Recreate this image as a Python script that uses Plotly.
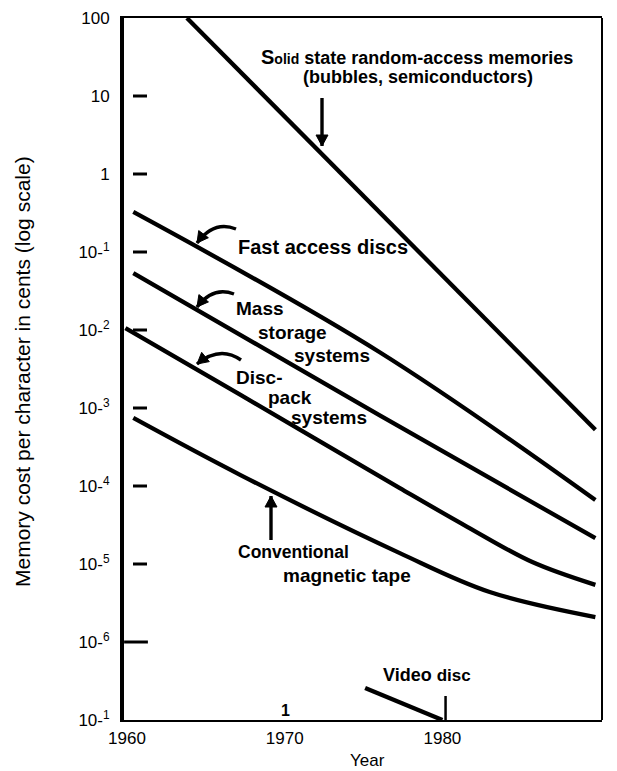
import plotly.graph_objects as go

# ---------------- data ----------------
years_solid = [1963.8, 1980.3, 1989.7]
cost_solid = [100, 0.0427, 5.25e-4]

years_fast = [1960.4, 1976.0, 1989.7]
cost_fast = [0.326, 5.22e-3, 6.6e-5]

years_mass = [1960.4, 1976.0, 1989.7]
cost_mass = [0.0537, 8.1e-4, 2.14e-5]

years_discpack = [1959.9, 1967.2, 1977.3, 1981.6, 1985.7, 1989.7]
cost_discpack = [0.0106, 1.47e-3, 9.4e-5, 2.98e-5, 1.06e-5, 5.4e-6]

years_tape = [1960.4, 1967.2, 1977.3, 1983.0, 1989.7]
cost_tape = [7.45e-4, 1.38e-4, 1.38e-5, 4.38e-6, 2.09e-6]

years_video = [1975.1, 1980.0]
cost_video = [2.57e-7, 1.0e-7]

x_tick_vals = [1960, 1970, 1980, 1990]
x_tick_text = ["1960", "1970", "1980", "1990"]
y_tick_vals = [100, 10, 1, 1e-1, 1e-2, 1e-3, 1e-4, 1e-5, 1e-6, 1e-7]
y_tick_text = ["100", "10", "1", "10-<sup>1</sup>", "10-<sup>2</sup>", "10-<sup>3</sup>",
               "10-<sup>4</sup>", "10-<sup>5</sup>", "10-<sup>6</sup>", "10-<sup>1</sup>"]
dash_vals = [10, 1, 1e-1, 1e-2, 1e-3, 1e-4, 1e-5]
long_dash_vals = [1e-6]

# ---------------- layout geometry ----------------
OFF = 8                      # the page body margin shifts the figure by 8 px
W, H = 617 - OFF, 771 - OFF
L, R, T, B = 124 - OFF, 15, 18 - OFF, 51
PW, PH = W - L - R, H - T - B
X_RANGE = [1959.81, 1990.12]
FONT = "Liberation Sans, Arial, Helvetica, sans-serif"


def px(x):   # screenshot pixel -> paper x
    return (x - OFF - L) / PW


def py(y):   # screenshot pixel -> paper y
    return (T + PH - (y - OFF)) / PH


def year_at(xpix):
    return X_RANGE[0] + px(xpix) * (X_RANGE[1] - X_RANGE[0])


fig = go.Figure()

for xs, ys, shape in [(years_solid, cost_solid, "linear"),
                      (years_fast, cost_fast, "spline"),
                      (years_mass, cost_mass, "spline"),
                      (years_discpack, cost_discpack, "spline"),
                      (years_tape, cost_tape, "spline"),
                      (years_video, cost_video, "linear")]:
    fig.add_trace(go.Scatter(x=xs, y=ys, mode="lines",
                             line=dict(color="black", width=4.3, shape=shape, smoothing=1.0),
                             hoverinfo="skip", showlegend=False))

# small dashes used as y ticks inside the frame
fig.add_trace(go.Scatter(x=[year_at(140)] * len(dash_vals), y=dash_vals, mode="markers",
                         marker=dict(symbol="line-ew", size=10,
                                     line=dict(color="black", width=3)),
                         hoverinfo="skip", showlegend=False))
fig.add_trace(go.Scatter(x=[year_at(136)] * len(long_dash_vals), y=long_dash_vals,
                         mode="markers",
                         marker=dict(symbol="line-ew", size=17,
                                     line=dict(color="black", width=3)),
                         hoverinfo="skip", showlegend=False, cliponaxis=False))

shapes = []


def arrow(start, ctrl, tip, width=3.4, head=11, half=6):
    (x0, y0), (x1, y1) = start, tip
    if ctrl is None:
        path = f"M {px(x0)},{py(y0)} L {px(x1)},{py(y1)}"
        cx, cy = x0, y0
    else:
        cx, cy = ctrl
        path = f"M {px(x0)},{py(y0)} Q {px(cx)},{py(cy)} {px(x1)},{py(y1)}"
    dx, dy = x1 - cx, y1 - cy
    n = (dx * dx + dy * dy) ** 0.5
    dx, dy = dx / n, dy / n
    bx, by = x1 - dx * head, y1 - dy * head
    shapes.append(dict(type="path", path=path, xref="paper", yref="paper",
                       line=dict(color="black", width=width)))
    p1 = (bx - dy * half, by + dx * half)
    p2 = (bx + dy * half, by - dx * half)
    tri = (f"M {px(x1)},{py(y1)} L {px(p1[0])},{py(p1[1])} "
           f"L {px(p2[0])},{py(p2[1])} Z")
    shapes.append(dict(type="path", path=tri, xref="paper", yref="paper",
                       fillcolor="black", line=dict(color="black", width=1)))


arrow((322, 98), None, (322, 146))           # solid state
arrow((236, 229), (214, 220), (197, 243))     # fast access
arrow((234, 294), (213, 286), (197, 307))     # mass storage
arrow((241, 360), (220, 345), (197, 364))     # disc-pack
arrow((271, 540), None, (271, 496))           # tape

# right border of the frame
shapes.append(dict(type="line", xref="paper", yref="paper", x0=1, x1=1, y0=0, y1=1,
                   line=dict(color="black", width=2)))
# 1980 tick
shapes.append(dict(type="line", xref="x", yref="paper", x0=1980.2, x1=1980.2,
                   y0=0, y1=py(696), line=dict(color="black", width=2.5)))

ann = []


def label(text, x, y, xanchor="left", size=18, bold=True, angle=0):
    t = f"<b>{text}</b>" if bold else text
    ann.append(dict(text=t, x=px(x), y=py(y), xref="paper", yref="paper",
                    xanchor=xanchor, yanchor="middle", showarrow=False,
                    textangle=angle,
                    font=dict(family=FONT, size=size, color="black")))


label("<span style='font-size:20px'>S</span><span style='font-size:14px'>olid</span>"
      " state random-access memories", 417, 57, "center")
label("(bubbles, semiconductors)", 418, 77, "center")
label("Fast access discs", 236, 247, size=20)
label("Mass", 234, 308, size=19)
label("storage", 256, 332, size=19)
label("systems", 292, 355, size=19)
label("Disc-", 234, 377, size=19)
label("pack", 266, 397, size=19)
label("systems", 289, 417, size=19)
label("Conventional", 236, 552, size=17.5)
label("magnetic tape", 281, 575, size=19)
label("Video <span style='font-size:17px'>disc</span>", 381, 675)
label("1", 285, 710, "center", size=16)

# axis titles
label("Memory cost per character in cents (log scale)", 22, 372, "center",
      size=21, bold=False, angle=-90)
label("Year", 367, 760, "center", size=17, bold=False)

fig.update_layout(
    width=W, height=H,
    margin=dict(l=L, r=R, t=T, b=B, pad=0),
    paper_bgcolor="white", plot_bgcolor="white",
    font=dict(family=FONT, color="black"),
    shapes=shapes, annotations=ann,
    xaxis=dict(range=X_RANGE, tickvals=x_tick_vals, ticktext=x_tick_text,
               showgrid=False, zeroline=False, showline=True, mirror=True,
               linecolor="black", linewidth=2, ticks="", automargin=False,
               tickfont=dict(size=17, family=FONT), ticklabelstandoff=2),
    yaxis=dict(type="log", range=[-7, 2], tickvals=y_tick_vals, ticktext=y_tick_text,
               showgrid=False, zeroline=False, showline=True, linecolor="black",
               linewidth=4, ticks="", tickfont=dict(size=17, family=FONT),
               ticklabelstandoff=7, automargin=False),
)

fig.write_html("out.html")
